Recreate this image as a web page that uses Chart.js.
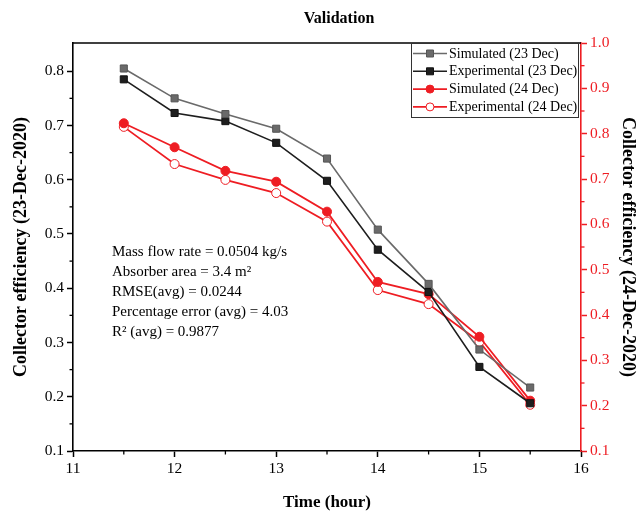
<!DOCTYPE html>
<html>
<head>
<meta charset="utf-8">
<script src="https://cdn.jsdelivr.net/npm/chart.js"></script>
<style>
  html, body { margin: 0; padding: 0; background: #fff; }
</style>
</head>
<body>
<canvas id="chart" width="638" height="517"></canvas>
<script>
// time of day (hour)
const hours = [11.5, 12, 12.5, 13, 13.5, 14, 14.5, 15, 15.5];

// 23 Dec, left axis
const sim23 = [0.805, 0.750, 0.721, 0.694, 0.639, 0.508, 0.408, 0.287, 0.217];
const exp23 = [0.785, 0.723, 0.708, 0.668, 0.598, 0.471, 0.393, 0.255, 0.188];

// 24 Dec, right axis
const sim24 = [0.823, 0.770, 0.718, 0.694, 0.628, 0.473, 0.446, 0.352, 0.211];
const exp24 = [0.815, 0.733, 0.698, 0.669, 0.606, 0.455, 0.424, 0.341, 0.202];

const seriesNames = ["Simulated (23 Dec)", "Experimental (23 Dec)", "Simulated (24 Dec)", "Experimental (24 Dec)"];

const xTickValues = [11, 11.5, 12, 12.5, 13, 13.5, 14, 14.5, 15, 15.5, 16];
const yTickValues = [0.1, 0.15, 0.2, 0.25, 0.3, 0.35, 0.4, 0.45, 0.5, 0.55, 0.6, 0.65, 0.7, 0.75, 0.8];
const y2TickValues = [0.1, 0.15, 0.2, 0.25, 0.3, 0.35, 0.4, 0.45, 0.5, 0.55, 0.6, 0.65, 0.7, 0.75, 0.8, 0.85, 0.9, 0.95, 1.0];

const notes = [
  "Mass flow rate = 0.0504 kg/s",
  "Absorber area = 3.4 m\u00B2",
  "RMSE(avg) = 0.0244",
  "Percentage error (avg) = 4.03",
  "R\u00B2 (avg) = 0.9877"
];

const RED = "#ee1d23";
const SERIF = '"Liberation Serif", "Times New Roman", serif';

const pts = ys => hours.map((h, i) => ({ x: h, y: ys[i] }));
const isMajor = (v, step) => Math.abs(v / step - Math.round(v / step)) < 1e-6;

function tickScale(values, step, color, fmt) {
  return {
    afterBuildTicks: s => { s.ticks = values.map(v => ({ value: v })); },
    ticks: {
      autoSkip: false,
      maxRotation: 0,
      padding: 3,
      color: color,
      font: { family: SERIF, size: 15.5 },
      callback: v => isMajor(v, step) ? fmt(v) : ""
    },
    grid: {
      drawOnChartArea: false,
      drawTicks: true,
      tickLength: 6,
      tickWidth: 1.5,
      tickColor: c => (c.tick && isMajor(c.tick.value, step)) ? color : "rgba(0,0,0,0)"
    },
    border: { color: color, width: 1.6 }
  };
}

const extras = {
  id: "extras",
  afterDraw(chart) {
    const { ctx, chartArea: a, scales } = chart;
    ctx.save();

    // top frame
    ctx.strokeStyle = "#000";
    ctx.lineWidth = 1.6;
    ctx.beginPath();
    ctx.moveTo(a.left, a.top);
    ctx.lineTo(a.right, a.top);
    ctx.stroke();

    // minor ticks
    ctx.lineWidth = 1.3;
    const minor = (scale, values, step, color, draw) => {
      ctx.strokeStyle = color;
      values.filter(v => !isMajor(v, step)).forEach(v => {
        const p = scale.getPixelForValue(v);
        ctx.beginPath();
        draw(p);
        ctx.stroke();
      });
    };
    minor(scales.x, xTickValues, 1, "#000", p => { ctx.moveTo(p, a.bottom); ctx.lineTo(p, a.bottom + 3.5); });
    minor(scales.y, yTickValues, 0.1, "#000", p => { ctx.moveTo(a.left, p); ctx.lineTo(a.left - 3.5, p); });
    minor(scales.y2, y2TickValues, 0.1, RED, p => { ctx.moveTo(a.right, p); ctx.lineTo(a.right + 3.5, p); });

    // title
    ctx.fillStyle = "#000";
    ctx.font = "bold 16px " + SERIF;
    ctx.textAlign = "center";
    ctx.textBaseline = "middle";
    ctx.fillText("Validation", 339, 19);

    // legend
    const lx = 411, ly = a.top, lw = a.right - 3 - lx, lh = 74;
    ctx.fillStyle = "#fff";
    ctx.fillRect(lx, ly, lw, lh);
    ctx.strokeStyle = "#333";
    ctx.lineWidth = 1;
    ctx.strokeRect(lx + 0.5, ly + 0.5, lw, lh);
    ctx.font = "14px " + SERIF;
    ctx.textAlign = "left";
    chart.data.datasets.forEach((ds, i) => {
      const y = ly + 10.5 + i * 17.8;
      ctx.strokeStyle = ds.borderColor;
      ctx.lineWidth = ds.borderWidth;
      ctx.beginPath();
      ctx.moveTo(lx + 2, y);
      ctx.lineTo(lx + 36, y);
      ctx.stroke();
      ctx.fillStyle = ds.pointBackgroundColor;
      ctx.strokeStyle = ds.pointBorderColor;
      ctx.lineWidth = 1;
      ctx.beginPath();
      if (ds.pointStyle === "rect") ctx.rect(lx + 19 - 3.5, y - 3.5, 7, 7);
      else ctx.arc(lx + 19, y, 4, 0, Math.PI * 2);
      ctx.fill();
      ctx.stroke();
      ctx.fillStyle = "#000";
      ctx.fillText(ds.label, lx + 38, y + 0.5);
    });

    // notes
    ctx.font = "15px " + SERIF;
    ctx.fillStyle = "#000";
    notes.forEach((t, i) => ctx.fillText(t, 112, 252 + i * 20));

    ctx.restore();
  }
};

new Chart(document.getElementById("chart"), {
  type: "line",
  data: {
    datasets: [
      { label: seriesNames[0], data: pts(sim23), yAxisID: "y", borderColor: "#6a6a6a", borderWidth: 1.6,
        pointStyle: "rect", pointRadius: 5, pointBackgroundColor: "#6a6a6a", pointBorderColor: "#555", pointBorderWidth: 1 },
      { label: seriesNames[1], data: pts(exp23), yAxisID: "y", borderColor: "#1e1e1e", borderWidth: 1.6,
        pointStyle: "rect", pointRadius: 5, pointBackgroundColor: "#1e1e1e", pointBorderColor: "#111", pointBorderWidth: 1 },
      { label: seriesNames[2], data: pts(sim24), yAxisID: "y2", borderColor: RED, borderWidth: 1.8,
        pointStyle: "circle", pointRadius: 4.5, pointBackgroundColor: RED, pointBorderColor: RED, pointBorderWidth: 1 },
      { label: seriesNames[3], data: pts(exp24), yAxisID: "y2", borderColor: RED, borderWidth: 1.8,
        pointStyle: "circle", pointRadius: 4.5, pointBackgroundColor: "#fff", pointBorderColor: RED, pointBorderWidth: 1 }
    ]
  },
  options: {
    responsive: false,
    animation: false,
    layout: { padding: { top: 43, left: 0, right: 0, bottom: 0 } },
    plugins: { legend: { display: false }, tooltip: { enabled: false } },
    elements: { line: { tension: 0 } },
    scales: {
      x: Object.assign(tickScale(xTickValues, 1, "#000", v => String(v)), {
        type: "linear", min: 11, max: 16,
        afterFit: s => { s.height = 66; },
        title: { display: true, text: "Time (hour)", color: "#000",
          font: { family: SERIF, size: 17, weight: "bold" }, padding: { top: 0, bottom: 4 } }
      }),
      y: Object.assign(tickScale(yTickValues, 0.1, "#000", v => v.toFixed(1)), {
        type: "linear", position: "left", min: 0.1, max: 0.852,
        afterFit: s => { s.width = 73; },
        title: { display: true, text: "Collector efficiency (23-Dec-2020)", color: "#000",
          font: { family: SERIF, size: 18, weight: "bold" }, padding: { top: 11, bottom: 0 } }
      }),
      y2: Object.assign(tickScale(y2TickValues, 0.1, RED, v => v.toFixed(1)), {
        type: "linear", position: "right", min: 0.1, max: 1.0,
        afterFit: s => { s.width = 57; },
        title: { display: true, text: "Collector efficiency (24-Dec-2020)", color: "#000",
          font: { family: SERIF, size: 18, weight: "bold" }, padding: { top: 0, bottom: 0 } }
      })
    }
  },
  plugins: [extras]
});
</script>
</body>
</html>
